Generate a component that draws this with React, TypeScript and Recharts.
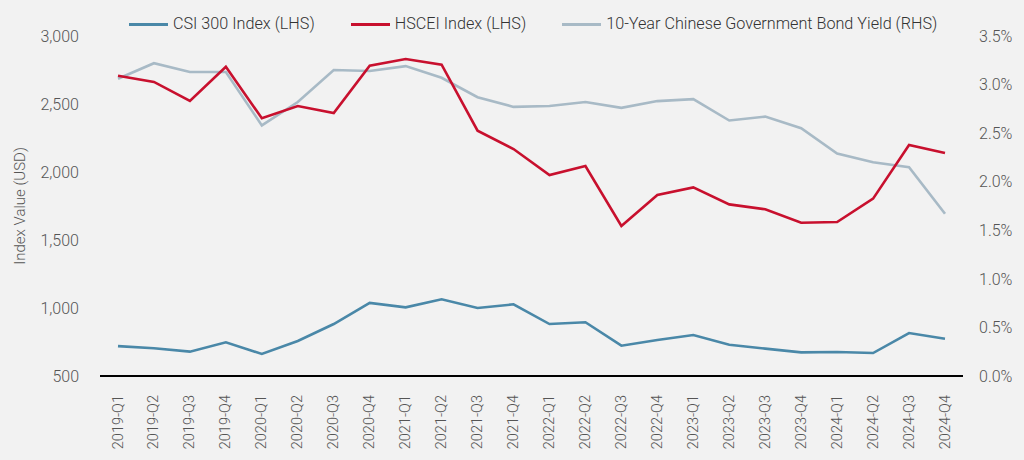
// Quarterly index values vs. 10-year bond yield, dual axis
import { LineChart, Line, XAxis, YAxis } from 'recharts'

const quarters = [
  '2019-Q1', '2019-Q2', '2019-Q3', '2019-Q4',
  '2020-Q1', '2020-Q2', '2020-Q3', '2020-Q4',
  '2021-Q1', '2021-Q2', '2021-Q3', '2021-Q4',
  '2022-Q1', '2022-Q2', '2022-Q3', '2022-Q4',
  '2023-Q1', '2023-Q2', '2023-Q3', '2023-Q4',
  '2024-Q1', '2024-Q2', '2024-Q3', '2024-Q4',
]

const csi300 = [
  720, 704, 679, 748, 662, 757, 882, 1037, 1005, 1064, 1000, 1027,
  882, 895, 723, 765, 801, 730, 701, 674, 676, 669, 816, 774,
]

const hscei = [
  2708, 2662, 2522, 2774, 2395, 2485, 2434, 2782, 2831, 2789, 2304, 2169,
  1978, 2044, 1603, 1831, 1887, 1762, 1726, 1627, 1632, 1804, 2199, 2140,
]

const bondYield = [
  3.06, 3.22, 3.13, 3.13, 2.58, 2.82, 3.15, 3.14, 3.19, 3.07, 2.87, 2.77,
  2.78, 2.82, 2.76, 2.83, 2.85, 2.63, 2.67, 2.55, 2.29, 2.2, 2.15, 1.67,
]

const leftTicks = [500, 1000, 1500, 2000, 2500, 3000]
const rightTicks = [0, 0.5, 1, 1.5, 2, 2.5, 3, 3.5]

const COLORS = {
  csi: '#4a88a8',
  hscei: '#c8102e',
  bond: '#a8bac6',
}

const TEXT = '#555'
const FONT = 'Roboto, "Noto Sans", sans-serif'

const data = quarters.map((q, i) => ({
  quarter: q,
  csi: csi300[i],
  hscei: hscei[i],
  bond: bondYield[i],
}))

const legendItems = [
  { label: 'CSI 300 Index (LHS)', color: COLORS.csi },
  { label: 'HSCEI Index (LHS)', color: COLORS.hscei },
  { label: '10-Year Chinese Government Bond Yield (RHS)', color: COLORS.bond },
]

// legend drawn as an overlay so it doesn't push the plot area down
function TopLegend() {
  return (
    <div style={{
      position: 'absolute', top: 14, left: 129, display: 'flex', gap: 36,
      fontFamily: FONT, fontWeight: 300, fontSize: 16.2, color: '#333', lineHeight: '20px',
    }}>
      {legendItems.map(item => (
        <div key={item.label} style={{ display: 'flex', alignItems: 'center', gap: 5 }}>
          <span style={{ display: 'inline-block', width: 39, height: 3, background: item.color }} />
          <span>{item.label}</span>
        </div>
      ))}
    </div>
  )
}

function QuarterTick({ x, y, payload }: any) {
  const ty = y + 11
  return (
    <text
      x={x}
      y={ty}
      transform={`rotate(-90, ${x}, ${ty})`}
      textAnchor="end"
      dominantBaseline="central"
      fill={TEXT}
      fontFamily={FONT}
      fontWeight={300}
      fontSize={14.5}
    >
      {payload.value}
    </text>
  )
}

export default function App() {
  return (
    <div style={{ position: 'absolute', left: 0, top: 0, width: 1024, height: 460, background: '#f2f2f2' }}>
      <LineChart width={1024} height={460} data={data} margin={{ top: 36, right: 11, bottom: 0, left: 10 }}>
        <XAxis
          dataKey="quarter"
          interval={0}
          height={84}
          padding={{ left: 18, right: 18 }}
          tick={<QuarterTick />}
          tickLine={false}
          axisLine={{ stroke: '#000', strokeWidth: 2 }}
        />
        <YAxis
          yAxisId="left"
          width={90}
          domain={[500, 3000]}
          ticks={leftTicks}
          tickFormatter={v => v.toLocaleString('en-US')}
          tickLine={false}
          axisLine={false}
          tickMargin={15}
          tick={{ fill: TEXT, fontSize: 16, fontFamily: FONT, fontWeight: 300 }}
          label={{ value: 'Index Value (USD)', angle: -90, position: 'insideLeft', offset: 10, style: { textAnchor: 'middle', fill: TEXT, fontSize: 15, fontFamily: FONT, fontWeight: 300 } }}
        />
        <YAxis
          yAxisId="right"
          orientation="right"
          width={50}
          domain={[0, 3.5]}
          ticks={rightTicks}
          tickFormatter={v => `${v.toFixed(1)}%`}
          tickLine={false}
          axisLine={false}
          tickMargin={10}
          tick={{ fill: TEXT, fontSize: 16, fontFamily: FONT, fontWeight: 300 }}
        />
        <Line yAxisId="right" dataKey="bond" stroke={COLORS.bond} strokeWidth={2.6} dot={false} isAnimationActive={false} />
        <Line yAxisId="left" dataKey="csi" stroke={COLORS.csi} strokeWidth={2.6} dot={false} isAnimationActive={false} />
        <Line yAxisId="left" dataKey="hscei" stroke={COLORS.hscei} strokeWidth={2.6} dot={false} isAnimationActive={false} />
      </LineChart>
      <TopLegend />
    </div>
  )
}
